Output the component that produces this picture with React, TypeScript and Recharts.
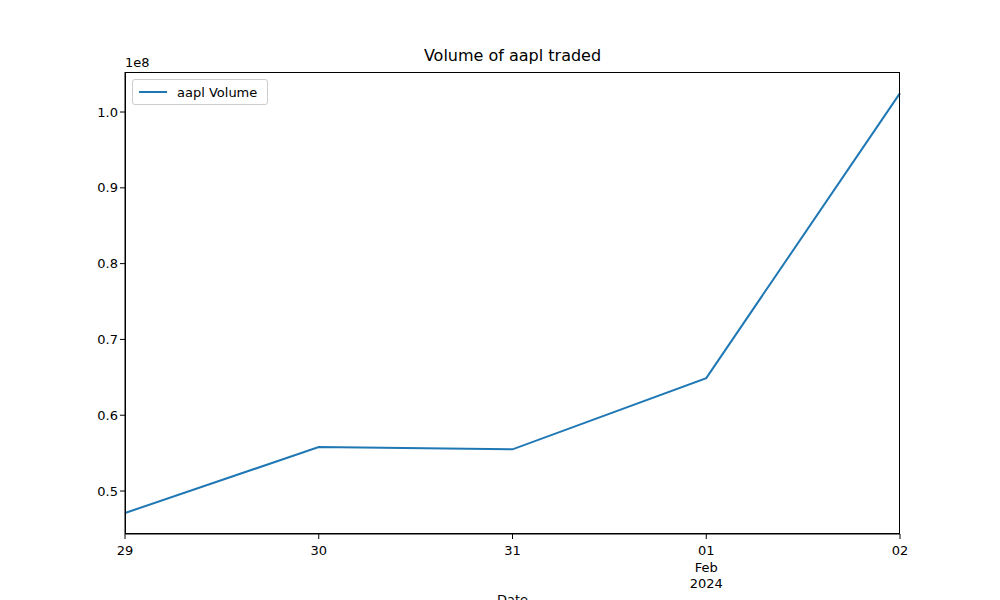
import React from "react";
import { LineChart, Line, XAxis, YAxis } from "recharts";

const dates = ["29", "30", "31", "01", "02"];
const dateExtra = ["", "", "", "Feb\n2024", ""];
const volume = [47.1e6, 55.8e6, 55.5e6, 64.9e6, 102.5e6];
const yTicks = [0.5e8, 0.6e8, 0.7e8, 0.8e8, 0.9e8, 1.0e8];

const data = dates.map((d, i) => ({ idx: i, volume: volume[i] }));

const font = "DejaVu Sans, sans-serif";

function XTick(props: any) {
  const { x, y, payload } = props;
  const extra = dateExtra[payload.value] ? dateExtra[payload.value].split("\n") : [];
  return (
    <g>
      <line x1={x} x2={x} y1={y - 8} y2={y - 3} stroke="#000" />
      <text x={x} y={y + 13} textAnchor="middle" fontSize={13} fontFamily={font} fill="#000">
        {dates[payload.value]}
      </text>
      {extra.map((t, k) => (
        <text key={k} x={x} y={y + 30 + k * 16} textAnchor="middle" fontSize={13} fontFamily={font} fill="#000">
          {t}
        </text>
      ))}
    </g>
  );
}

function LegendBox() {
  return (
    <div style={{ position: "absolute", left: 132, top: 79, width: 134, height: 24, border: "1px solid #ccc", borderRadius: 3, background: "#fff", display: "flex", alignItems: "center", fontFamily: font, fontSize: 13 }}>
      <div style={{ width: 28, height: 2, background: "#1f77b4", marginLeft: 6, marginRight: 10 }} />
      aapl Volume
    </div>
  );
}

export default function App() {
  return (
    <div style={{ position: "absolute", left: 0, top: 0, width: 1000, height: 600, background: "#fff", overflow: "hidden" }}>
      <div style={{ position: "absolute", left: 0, width: 1025, top: 46, textAlign: "center", fontFamily: font, fontSize: 16 }}>
        Volume of aapl traded
      </div>
      <div style={{ position: "absolute", left: 125, top: 55, fontFamily: font, fontSize: 13 }}>1e8</div>
      <LineChart width={1000} height={600} data={data} margin={{ top: 72, right: 100, bottom: 6, left: 65 }}>
        <XAxis dataKey="idx" type="number" domain={[0, 4]} ticks={[0, 1, 2, 3, 4]} height={60} tick={<XTick />} tickLine={false} stroke="#000" interval={0} />
        <YAxis type="number" domain={[44.33e6, 105.28e6]} ticks={yTicks} width={60} tickFormatter={(v: number) => (v / 1e8).toFixed(1)} tick={{ fontSize: 13, fontFamily: font, fill: "#000" }} tickSize={5} stroke="#000" />
        <Line dataKey="volume" stroke="#1f77b4" strokeWidth={2} dot={false} isAnimationActive={false} />
      </LineChart>
      <div style={{ position: "absolute", left: 125, top: 72, width: 775, height: 462, border: "1px solid #000", boxSizing: "border-box", pointerEvents: "none" }} />
      <LegendBox />
      <div style={{ position: "absolute", left: 0, width: 1025, top: 592, textAlign: "center", fontFamily: font, fontSize: 13 }}>Date</div>
    </div>
  );
}
